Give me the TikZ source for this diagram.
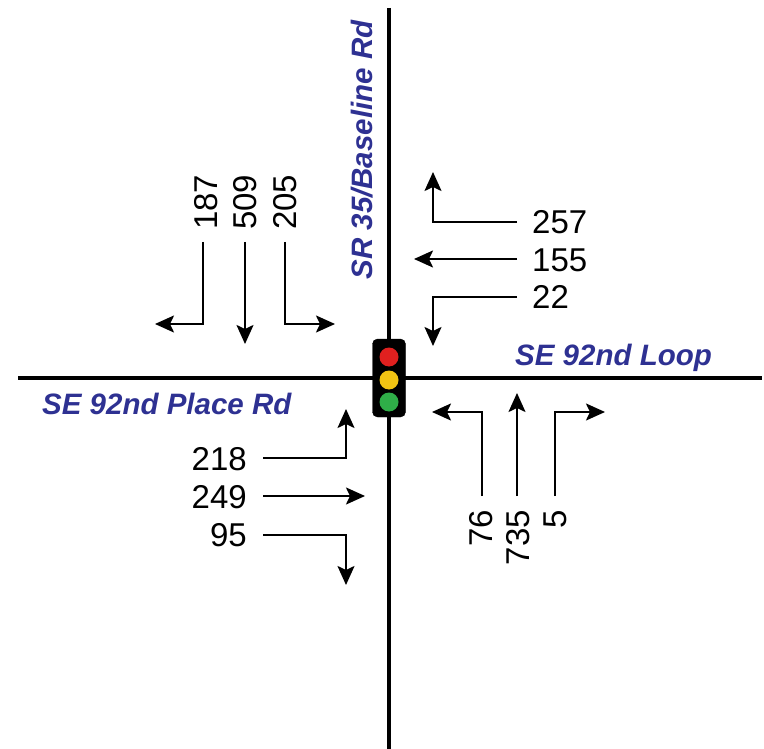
\documentclass[tikz,border=0pt]{standalone}
\usepackage{fontspec}
\setmainfont{Liberation Sans}
\usetikzlibrary{arrows.meta}
\definecolor{roadblue}{HTML}{2E3192}
\definecolor{lred}{HTML}{E0201F}
\definecolor{lyellow}{HTML}{F2C413}
\definecolor{lgreen}{HTML}{2FAE48}
\tikzset{
  road/.style={line width=3.2pt, black},
  mv/.style={line width=2.1pt, black, -{Stealth[length=19pt,width=17pt,inset=4pt]}},
  vol/.style={font=\fontsize{33}{36}\selectfont, inner sep=0pt},
  rname/.style={font=\fontsize{29.5}{32}\selectfont\bfseries\itshape, text=roadblue, inner sep=0pt},
  lamp/.style={circle, minimum size=19pt, inner sep=0pt},
}
\begin{document}
\begin{tikzpicture}[x=1pt,y=-1pt]
\useasboundingbox (0,0) rectangle (764,749);
% roads
\coordinate (n) at (389,8); \coordinate (s) at (389,749);
\coordinate (w) at (18,378); \coordinate (e) at (762,378);
\draw[road] (n) -- (s);
\draw[road] (w) -- (e);
% signal
\node[draw=black, fill=black, rounded corners=5pt, minimum width=33pt, minimum height=78pt, inner sep=0pt] (sig) at (389,378) {};
\node[lamp, fill=lred] (red) at (389,357) {};
\node[lamp, fill=lyellow] (yel) at (389,380) {};
\node[lamp, fill=lgreen] (grn) at (389,402) {};
% road names
\node[rname, rotate=90] (sr35) at (362,150) {SR 35/Baseline Rd};
\node[rname, anchor=west] (loop) at (515,358) {SE 92nd Loop};
\node[rname, anchor=west] (place) at (42,404) {SE 92nd Place Rd};
% southbound (top-left)
\node[vol, rotate=90, anchor=west] (v187) at (206,230) {187};
\node[vol, rotate=90, anchor=west] (v509) at (245,230) {509};
\node[vol, rotate=90, anchor=west] (v205) at (285,230) {205};
\coordinate (a1) at (203,242); \coordinate (a1b) at (203,324); \coordinate (a1e) at (155,324);
\coordinate (a2) at (245,242); \coordinate (a2e) at (245,344);
\coordinate (a3) at (285,242); \coordinate (a3b) at (285,324); \coordinate (a3e) at (335,324);
\draw[mv] (a1) -- (a1b) -- (a1e);
\draw[mv] (a2) -- (a2e);
\draw[mv] (a3) -- (a3b) -- (a3e);
% westbound (top-right)
\node[vol, anchor=west] (v257) at (532,222) {257};
\node[vol, anchor=west] (v155) at (532,260) {155};
\node[vol, anchor=west] (v22) at (532,297) {22};
\coordinate (b1) at (517,222); \coordinate (b1b) at (433,222); \coordinate (b1e) at (433,172);
\coordinate (b2) at (517,259); \coordinate (b2e) at (414,259);
\coordinate (b3) at (517,297); \coordinate (b3b) at (433,297); \coordinate (b3e) at (433,346);
\draw[mv] (b1) -- (b1b) -- (b1e);
\draw[mv] (b2) -- (b2e);
\draw[mv] (b3) -- (b3b) -- (b3e);
% eastbound (bottom-left)
\node[vol, anchor=east] (v218) at (247,459) {218};
\node[vol, anchor=east] (v249) at (247,497) {249};
\node[vol, anchor=east] (v95) at (247,535) {95};
\coordinate (c1) at (263,458); \coordinate (c1b) at (346,458); \coordinate (c1e) at (346,409);
\coordinate (c2) at (263,496); \coordinate (c2e) at (365,496);
\coordinate (c3) at (263,535); \coordinate (c3b) at (346,535); \coordinate (c3e) at (346,585);
\draw[mv] (c1) -- (c1b) -- (c1e);
\draw[mv] (c2) -- (c2e);
\draw[mv] (c3) -- (c3b) -- (c3e);
% northbound (bottom-right)
\node[vol, rotate=90, anchor=east] (v76) at (481,510) {76};
\node[vol, rotate=90, anchor=east] (v735) at (518,510) {735};
\node[vol, rotate=90, anchor=east] (v5) at (555,510) {5};
\coordinate (d1) at (482,496); \coordinate (d1b) at (482,412); \coordinate (d1e) at (432,412);
\coordinate (d2) at (517,496); \coordinate (d2e) at (517,393);
\coordinate (d3) at (555,496); \coordinate (d3b) at (555,412); \coordinate (d3e) at (605,412);
\draw[mv] (d1) -- (d1b) -- (d1e);
\draw[mv] (d2) -- (d2e);
\draw[mv] (d3) -- (d3b) -- (d3e);
\end{tikzpicture}
\end{document}
